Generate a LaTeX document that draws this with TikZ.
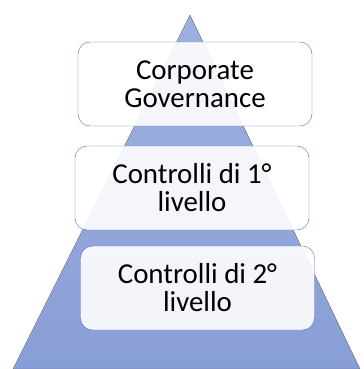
\documentclass[tikz,border=0pt]{standalone}
\usepackage{fontspec}
\setmainfont{Carlito}
\usepackage{tikz}
\usepackage{xcolor}
\definecolor{pyrtop}{RGB}{158,176,222}
\definecolor{pyrbottom}{RGB}{136,158,214}
\definecolor{boxline}{RGB}{68,114,196}
\tikzset{
    level-box/.style = {draw=boxline, fill=white, fill opacity=0.9, text opacity=1, thin, rectangle, rounded corners=12bp, minimum width=234bp, minimum height=84bp, align=center, font=\fontsize{29}{28}\selectfont},
}

\begin{document}
\begin{tikzpicture}[x=1bp,y=1bp]
\useasboundingbox (0,0) rectangle (364,369);
\coordinate (apex) at (190,354);
\coordinate (base-left) at (13,0);
\coordinate (base-right) at (360,0);
\shade[top color=pyrtop, bottom color=pyrbottom, draw=black!60, thin] (apex) -- (base-right) -- (base-left) -- cycle;
\node[level-box] (governance) at (195,285) {Corporate\\Governance};
\node[level-box] (first-level) at (192,181) {Controlli di 1°\\livello};
\node[level-box] (second-level) at (197.5,81) {Controlli di 2°\\livello};
\end{tikzpicture}
\end{document}
